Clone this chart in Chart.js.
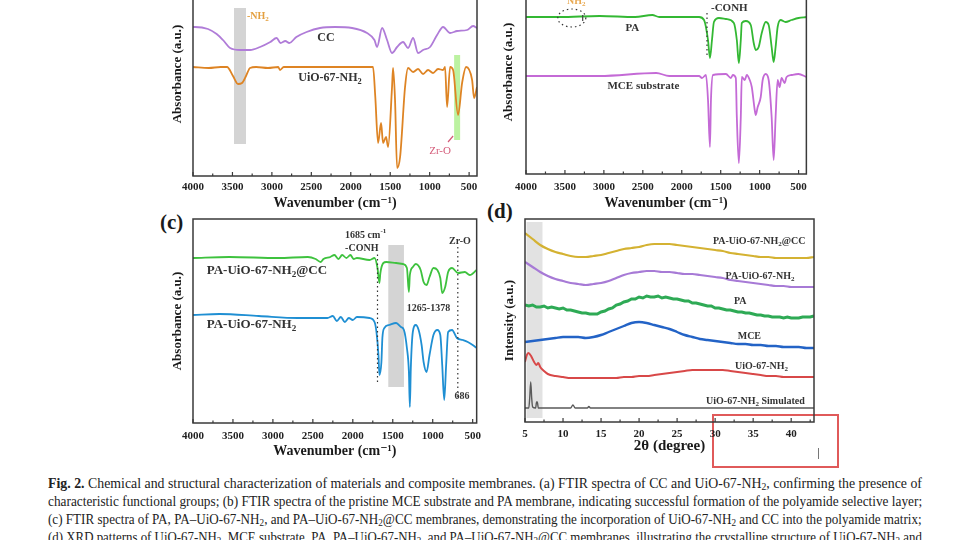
<!DOCTYPE html>
<html>
<head>
<meta charset="utf-8">
<script src="https://cdn.jsdelivr.net/npm/chart.js@4.4.1/dist/chart.umd.min.js"></script>
<style>
html,body{margin:0;padding:0;background:#fff;}
body{width:960px;height:540px;position:relative;overflow:hidden;font-family:"Liberation Serif",serif;}
canvas{position:absolute;}
.tag{position:absolute;font:bold 21px "Liberation Serif",serif;color:#1a1a1a;}
#stamp{position:absolute;left:712px;top:414px;width:123px;height:50px;border:2px solid #e05a5a;background:rgba(255,255,255,0.5);}
#stamp i{position:absolute;left:104px;top:32px;width:1px;height:11px;background:#777;}
#caption{position:absolute;left:48px;top:475px;width:874px;font-size:14px;line-height:18px;color:#222;}
#caption span{display:inline-block;white-space:nowrap;transform-origin:0 0;}
#caption sub{font-size:70%;line-height:0;vertical-align:-0.25em;}
</style>
</head>
<body>
<div class="tag" style="left:160px;top:210px">(c)</div>
<div class="tag" style="left:487px;top:199px">(d)</div>
<div id="stamp"><i></i></div>
<div id="caption">
<div><span><b>Fig. 2.</b> Chemical and structural characterization of materials and composite membranes. (a) FTIR spectra of CC and UiO-67-NH<sub>2</sub>, confirming the presence of</span></div>
<div><span>characteristic functional groups; (b) FTIR spectra of the pristine MCE substrate and PA membrane, indicating successful formation of the polyamide selective layer;</span></div>
<div><span>(c) FTIR spectra of PA, PA–UiO-67-NH<sub>2</sub>, and PA–UiO-67-NH<sub>2</sub>@CC membranes, demonstrating the incorporation of UiO-67-NH<sub>2</sub> and CC into the polyamide matrix;</span></div>
<div><span>(d) XRD patterns of UiO-67-NH<sub>2</sub>, MCE substrate, PA, PA–UiO-67-NH<sub>2</sub>, and PA–UiO-67-NH<sub>2</sub>@CC membranes, illustrating the crystalline structure of UiO-67-NH<sub>2</sub> and</span></div>
</div>
<script>
const FONT = '"Liberation Serif","DejaVu Serif",serif'

//tick labels
const ftirTicks = [4000, 3500, 3000, 2500, 2000, 1500, 1000, 500]
const xrdTicks = [5, 10, 15, 20, 25, 30, 35, 40]

//(a) FTIR of CC and UiO-67-NH2
const ccWave = [4000, 3975, 3810, 3700, 3620, 3530, 3400, 3275, 3150, 3020, 2940, 2890, 2830, 2780, 2690, 2560, 2390, 2200, 1984, 1794, 1700, 1667, 1603, 1540, 1477, 1413, 1337, 1274, 1210, 1147, 1084, 995, 906, 830, 741, 652, 526, 450, 400]
const ccAbs = [149, 149, 147, 142, 136, 128, 126, 126, 129, 134, 138, 133, 135, 133, 139, 144, 148, 149, 148, 143, 136, 129, 148, 136, 123, 129, 134, 128, 138, 123, 126, 129, 141, 149, 143, 145, 146, 150, 148]
const uioWave = [4000, 3800, 3650, 3569, 3493, 3429, 3379, 3328, 3277, 3200, 3050, 2920, 2897, 2850, 2600, 2300, 2000, 1800, 1718, 1690, 1654, 1616, 1591, 1553, 1527, 1477, 1464, 1439, 1413, 1375, 1312, 1274, 1210, 1147, 1084, 1020, 957, 894, 830, 805, 779, 741, 703, 640, 589, 538, 462, 437, 400]
const uioAbs = [109, 108, 109, 109, 100, 92, 93, 100, 108, 109, 108, 109, 106, 109, 109, 109, 109, 109, 109, 80, 33, 53, 33, 39, 29, 89, 108, 76, 8, 19, 89, 108, 104, 107, 102, 106, 103, 107, 106, 109, 69, 109, 106, 61, 93, 109, 96, 78, 89]

//(b) FTIR of PA and MCE substrate
const paWave = [4000, 3566, 3055, 2600, 2378, 2289, 1778, 1714, 1663, 1638, 1612, 1587, 1523, 1433, 1331, 1293, 1267, 1242, 1229, 1178, 1114, 1076, 1050, 1012, 973, 922, 884, 846, 820, 795, 769, 731, 667, 590, 501, 400]
const paAbs = [157, 157, 158, 157, 159, 157, 157, 154, 134, 116, 134, 152, 156, 155, 151, 134, 111, 134, 151, 153, 149, 131, 124, 127, 141, 152, 149, 127, 112, 127, 147, 154, 152, 154, 156, 157]
const mceWave = [4000, 3055, 2327, 2161, 1778, 1740, 1689, 1663, 1638, 1625, 1599, 1433, 1369, 1344, 1306, 1293, 1267, 1242, 1229, 1191, 1165, 1127, 1101, 1063, 1050, 1025, 986, 961, 922, 884, 846, 820, 795, 769, 744, 718, 680, 654, 590, 501, 400]
const mceAbs = [98, 98, 101, 98, 98, 96, 99, 74, 27, 74, 99, 100, 96, 99, 96, 57, 11, 57, 97, 94, 99, 94, 87, 64, 59, 67, 77, 94, 100, 94, 57, 14, 57, 94, 87, 96, 91, 97, 99, 100, 97]

//(c) FTIR of the composite membranes
const pacWave = [4000, 3546, 2932, 2563, 2465, 2404, 2367, 2281, 2230, 2180, 2133, 2080, 2030, 1990, 1949, 1790, 1728, 1691, 1667, 1655, 1618, 1581, 1458, 1372, 1323, 1298, 1286, 1249, 1212, 1151, 1114, 1077, 1040, 991, 942, 905, 881, 844, 807, 758, 684, 598, 537, 450]
const pacAbs = [165, 166, 165, 166, 164, 161, 164, 166, 168, 164, 168, 165, 168, 164, 165, 163, 165, 155, 140, 150, 160, 161, 160, 159, 155, 131, 148, 156, 159, 153, 141, 138, 146, 155, 153, 145, 130, 136, 151, 155, 150, 151, 148, 153]
const pauWave = [4000, 3668, 3177, 2686, 2318, 2250, 2200, 2150, 2100, 2050, 2000, 1949, 1790, 1728, 1704, 1679, 1667, 1642, 1630, 1605, 1544, 1458, 1397, 1360, 1323, 1298, 1286, 1274, 1249, 1212, 1176, 1139, 1114, 1077, 1040, 991, 942, 905, 881, 856, 832, 807, 758, 697, 623, 561, 500, 450]
const pauAbs = [108, 109, 107, 105, 105, 107, 102, 106, 101, 105, 103, 106, 105, 101, 91, 68, 48, 61, 85, 95, 98, 100, 96, 93, 75, 51, 16, 55, 91, 98, 93, 78, 61, 51, 68, 88, 93, 88, 58, 23, 58, 91, 93, 85, 83, 81, 78, 75]

//(d) XRD patterns
const xrdDeg = [5, 6, 7, 8, 9, 10, 11, 12, 13, 14, 15, 16, 17, 18, 19, 20, 21, 22, 23, 24, 25, 26, 27, 28, 29, 30, 31, 32, 33, 34, 35, 36, 37, 38, 39, 40, 41, 42, 43]
const xrdPAUiOCC = [189, 183, 177, 173, 170, 168, 166, 165, 165, 166, 167, 169, 171, 173, 174, 175, 177, 178, 178, 178, 177, 176, 175, 174, 173, 172, 171, 169, 168, 167, 166, 165, 165, 164, 164, 164, 164, 164, 165]
const xrdPAUiO = [160, 155, 150, 146, 143, 141, 139, 138, 137, 138, 139, 141, 144, 147, 149, 150, 151, 151, 150, 150, 149, 148, 148, 147, 146, 145, 144, 142, 141, 140, 139, 138, 137, 136, 136, 135, 135, 135, 135]
const xrdMCE = [80, 81, 82, 83, 84, 85, 85, 85, 84, 85, 87, 90, 93, 96, 99, 100, 99, 97, 95, 93, 90, 87, 85, 83, 82, 81, 80, 79, 78, 78, 77, 77, 76, 76, 75, 75, 75, 74, 74]
const paDeg = [5, 5.5, 6, 6.5, 7, 7.5, 8, 8.5, 9, 9.5, 10, 10.5, 11, 11.5, 12, 12.5, 13, 13.5, 14, 14.5, 15, 15.5, 16, 16.5, 17, 17.5, 18, 18.5, 19, 19.5, 20, 20.5, 21, 21.5, 22, 22.5, 23, 23.5, 24, 24.5, 25, 25.5, 26, 26.5, 27, 27.5, 28, 28.5, 29, 29.5, 30, 30.5, 31, 31.5, 32, 32.5, 33, 33.5, 34, 34.5, 35, 35.5, 36, 36.5, 37, 37.5, 38, 38.5, 39, 39.5, 40, 40.5, 41, 41.5, 42, 42.5, 43]
const xrdPA = [117, 116, 117, 115, 115, 116, 114, 115, 114, 113, 114, 112, 112, 111, 110, 109, 109, 108, 108, 108, 110, 111, 113, 114, 117, 118, 120, 121, 123, 123, 125, 124, 126, 125, 125, 126, 124, 125, 124, 123, 123, 122, 121, 121, 119, 119, 118, 117, 116, 116, 114, 114, 113, 112, 112, 111, 110, 110, 109, 109, 108, 107, 107, 106, 106, 105, 105, 105, 104, 105, 104, 104, 104, 105, 105, 105, 106]
const uioDeg = [5, 5.2, 5.45, 5.8, 6.2, 6.5, 6.75, 7, 7.5, 8, 9, 10, 11, 12, 13, 14, 15, 16, 17, 18, 19, 20, 21, 22, 23, 24, 25, 26, 27, 28, 29, 30, 31, 32, 33, 34, 35, 36, 37, 38, 39, 40, 41, 42, 43]
const xrdUiO = [60, 66, 69, 66, 60, 57, 59, 55, 51, 48, 46, 45, 44, 44, 44, 44, 44, 44, 44, 45, 45, 46, 46, 47, 48, 49, 50, 51, 52, 52, 52, 52, 52, 51, 50, 49, 48, 47, 46, 46, 45, 45, 45, 45, 45]
const simDeg = [5, 5.5, 5.62, 5.75, 5.88, 6.0, 6.4, 6.52, 6.62, 6.75, 7, 9, 11.0, 11.3, 11.6, 13.2, 13.4, 13.6, 43]
const xrdSim = [14, 14, 24, 40, 24, 15, 14, 20, 20, 14, 14, 14, 14, 17, 14, 14, 15.5, 14, 14]

const pts = (xs, ys) => xs.map((x, i) => ({x, y: ys[i]}))

//panel layouts (page pixels for plot boxes) and their decorations in data units
const panels = [
    {
        id: 'a', box: {l: 193, r: 477, t: -28, b: 176}, xMin: 400, xMax: 4000, reverse: true,
        ticks: ftirTicks, minorStart: 500, minorStep: 250, yMax: 204,
        yTitle: 'Absorbance (a.u.)', yTitleX: 178, xTitle: 'Wavenumber (cm⁻¹)', tickY: 187, xTitleY: 203,
        series: [{data: pts(ccWave, ccAbs), c: '#b07cd8'}, {data: pts(uioWave, uioAbs), c: '#de8424'}],
        bands: [{x0: 3480, x1: 3328, y0: 32, y1: 168, c: '#d4d4d4'}, {x0: 690, x1: 614, y0: 36, y1: 121, c: 'rgba(165,238,130,0.75)'}],
        marks: [{x0: 767, y0: 34, x1: 703, y1: 40, c: '#d45a78'}],
        labels: [
            {x: 3315, y: 160, t: '-NH_2', c: '#e4a040', s: 10, a: 'left'},
            {x: 2314, y: 138, t: 'CC', s: 12},
            {x: 2263, y: 98, t: 'UiO-67-NH_2', s: 12},
            {x: 868, y: 25, t: 'Zr-O', c: '#d45a78', s: 11, w: 'normal'}
        ]
    },
    {
        id: 'b', box: {l: 526, r: 808, t: -30, b: 174}, xMin: 400, xMax: 4000, reverse: true,
        ticks: ftirTicks, minorStart: 500, minorStep: 250, yMax: 204,
        yTitle: 'Absorbance (a.u.)', yTitleX: 509, xTitle: 'Wavenumber (cm⁻¹)', tickY: 187, xTitleY: 203,
        series: [{data: pts(paWave, paAbs), c: '#33b833'}, {data: pts(mceWave, mceAbs), c: '#c46ad6'}],
        guides: [{x: 1676, y0: 119, y1: 164}],
        rings: [{x: 3412, y: 156, rx: 14, ry: 9}],
        marks: [{x0: 3272, y0: 153, x1: 3272, y1: 159, c: '#444'}],
        labels: [
            {x: 2634, y: 146, t: 'PA', s: 11},
            {x: 2493, y: 88, t: 'MCE substrate', s: 11},
            {x: 1625, y: 166, t: '-CONH', s: 11, a: 'left'},
            {x: 3355, y: 173, t: 'NH_2', c: '#e8a850', s: 10}
        ]
    },
    {
        id: 'c', box: {l: 193, r: 482, t: 219, b: 423}, xMin: 450, xMax: 4000, reverse: true,
        ticks: ftirTicks, minorStart: 500, minorStep: 250, yMax: 204,
        yTitle: 'Absorbance (a.u.)', yTitleX: 178, xTitle: 'Wavenumber (cm⁻¹)', tickY: 436, xTitleY: 451,
        series: [{data: pts(pacWave, pacAbs), c: '#3ec23e'}, {data: pts(pauWave, pauAbs), c: '#1f8fd3'}],
        bands: [{x0: 1556, x1: 1360, y0: 36, y1: 178, c: '#d4d4d4'}],
        guides: [{x: 1691, y0: 41, y1: 170}, {x: 686, y0: 26, y1: 176}],
        labels: [
            {x: 1839, y: 188, t: '1685 cm^-1', s: 10},
            {x: 1888, y: 175, t: '-CONH', s: 10},
            {x: 660, y: 182, t: 'Zr-O', s: 10},
            {x: 1053, y: 115, t: '1265-1378', s: 10},
            {x: 635, y: 27, t: '686', s: 10},
            {x: 3828, y: 152, t: 'PA-UiO-67-NH_2@CC', s: 13, a: 'left'},
            {x: 3828, y: 98, t: 'PA-UiO-67-NH_2', s: 13, a: 'left'}
        ]
    },
    {
        id: 'd', box: {l: 525, r: 814, t: 219, b: 422}, xMin: 5, xMax: 43, reverse: false,
        ticks: xrdTicks, minorStart: 5, minorStep: 2.5, yMax: 203,
        yTitle: 'Intensity (a.u.)', yTitleX: 510, xTitle: '2θ (degree)', xTitleSize: 15, tickY: 434, xTitleY: 447,
        series: [
            {data: pts(xrdDeg, xrdPAUiOCC), c: '#d4b232', bw: 2.2},
            {data: pts(xrdDeg, xrdPAUiO), c: '#a77ad6', bw: 2.2},
            {data: pts(paDeg, xrdPA), c: '#2eaa55', bw: 3, straight: true},
            {data: pts(xrdDeg, xrdMCE), c: '#2363c6', bw: 2.4},
            {data: pts(uioDeg, xrdUiO), c: '#d84848', bw: 2},
            {data: pts(simDeg, xrdSim), c: '#5a5a5a', bw: 1.4}
        ],
        bands: [{x0: 5.2, x1: 7.3, y0: 4, y1: 200, c: '#e2e2e2'}],
        labels: [
            {x: 35.8, y: 181, t: 'PA-UiO-67-NH_2@CC', s: 10},
            {x: 35.9, y: 146, t: 'PA-UiO-67-NH_2', s: 10},
            {x: 33.3, y: 121, t: 'PA', s: 10},
            {x: 34.5, y: 86, t: 'MCE', s: 10},
            {x: 36.1, y: 56, t: 'UiO-67-NH_2', s: 10},
            {x: 35.3, y: 21, t: 'UiO-67-NH_2 Simulated', s: 10}
        ]
    }
]

//text with _x subscripts and ^xx superscripts
function parseRich(t) {
    const segs = []
    let buf = '', i = 0
    while (i < t.length) {
        const ch = t[i]
        if (ch === '_' || ch === '^') {
            if (buf) { segs.push({t: buf, m: 0}); buf = '' }
            if (ch === '_') { segs.push({t: t[i + 1], m: 1}); i += 2; continue }
            let j = i + 1, s = ''
            while (j < t.length && t[j] !== ' ') { s += t[j]; j++ }
            segs.push({t: s, m: 2}); i = j; continue
        }
        buf += ch; i++
    }
    if (buf) segs.push({t: buf, m: 0})
    return segs
}

function drawRich(ctx, text, x, y, size, weight, color, align) {
    const segs = parseRich(text)
    const fnt = s => weight + ' ' + s + 'px ' + FONT
    let w = 0
    segs.forEach(s => { ctx.font = fnt(s.m ? size * 0.7 : size); s.w = ctx.measureText(s.t).width; w += s.w })
    let cx = align === 'left' ? x : align === 'right' ? x - w : x - w / 2
    ctx.fillStyle = color
    ctx.textBaseline = 'middle'
    ctx.textAlign = 'left'
    segs.forEach(s => {
        ctx.font = fnt(s.m ? size * 0.7 : size)
        const dy = s.m === 1 ? size * 0.3 : s.m === 2 ? -size * 0.38 : 0
        ctx.fillText(s.t, cx, y + dy)
        cx += s.w
    })
}

function decorPlugin(p) {
    return {
        id: 'decor' + p.id,
        beforeDatasetsDraw(chart) {
            const {ctx, scales: {x, y}} = chart
            ctx.save();
            (p.bands || []).forEach(b => {
                const x0 = x.getPixelForValue(b.x0), x1 = x.getPixelForValue(b.x1)
                const y0 = y.getPixelForValue(b.y0), y1 = y.getPixelForValue(b.y1)
                ctx.fillStyle = b.c
                ctx.fillRect(Math.min(x0, x1), Math.min(y0, y1), Math.abs(x1 - x0), Math.abs(y1 - y0))
            })
            ctx.restore()
        },
        afterDatasetsDraw(chart) {
            const {ctx, chartArea: a, scales: {x, y}} = chart
            ctx.save()
            ctx.setLineDash([1.5, 3])
            ctx.lineWidth = 1.2
            ctx.strokeStyle = '#333';
            (p.guides || []).forEach(g => {
                const px = x.getPixelForValue(g.x)
                ctx.beginPath()
                ctx.moveTo(px, y.getPixelForValue(g.y0))
                ctx.lineTo(px, y.getPixelForValue(g.y1))
                ctx.stroke()
            });
            (p.rings || []).forEach(r => {
                ctx.beginPath()
                ctx.ellipse(x.getPixelForValue(r.x), y.getPixelForValue(r.y), r.rx, r.ry, 0, 0, Math.PI * 2)
                ctx.stroke()
            })
            ctx.setLineDash([]);
            (p.marks || []).forEach(m => {
                ctx.strokeStyle = m.c
                ctx.lineWidth = 1.2
                ctx.beginPath()
                ctx.moveTo(x.getPixelForValue(m.x0), y.getPixelForValue(m.y0))
                ctx.lineTo(x.getPixelForValue(m.x1), y.getPixelForValue(m.y1))
                ctx.stroke()
            })
            //frame and inward ticks
            ctx.strokeStyle = '#3a3a3a'
            ctx.lineWidth = 1.5
            ctx.strokeRect(a.left, a.top, a.right - a.left, a.bottom - a.top)
            ctx.lineWidth = 1.2
            const hi = Math.max(x.min, x.max)
            for (let v = p.minorStart; v <= hi + 1e-6; v += p.minorStep) {
                const px = x.getPixelForValue(v)
                const major = p.ticks.includes(v)
                ctx.beginPath()
                ctx.moveTo(px, a.bottom)
                ctx.lineTo(px, a.bottom - (major ? 4 : 2.5))
                ctx.stroke()
            }
            (p.labels || []).forEach(l => drawRich(ctx, l.t, x.getPixelForValue(l.x), y.getPixelForValue(l.y),
                l.s || 11, l.w || 'bold', l.c || '#333', l.a || 'center'))
            ctx.restore()
        }
    }
}

const YW = 44, XH = 44, PT = 6, PR = 6

panels.forEach(p => {
    const left = p.box.l - YW, top = p.box.t - PT
    const w = p.box.r + PR - left, h = p.box.b + XH - top
    const cv = document.createElement('canvas')
    cv.width = w
    cv.height = h
    cv.style.left = left + 'px'
    cv.style.top = top + 'px'
    cv.style.width = w + 'px'
    cv.style.height = h + 'px'
    document.body.appendChild(cv)
    new Chart(cv, {
        type: 'line',
        data: {
            datasets: p.series.map(s => ({
                data: s.data, borderColor: s.c, borderWidth: s.bw || 1.8, pointRadius: 0,
                fill: false, cubicInterpolationMode: s.straight ? 'default' : 'monotone', tension: 0
            }))
        },
        options: {
            responsive: false,
            animation: false,
            devicePixelRatio: 1,
            layout: {padding: {left: 0, top: PT, right: PR, bottom: 0}},
            plugins: {legend: {display: false}, tooltip: {enabled: false}},
            scales: {
                x: {
                    type: 'linear', min: p.xMin, max: p.xMax, reverse: p.reverse,
                    afterBuildTicks: s => { s.ticks = p.ticks.map(v => ({value: v})) },
                    afterFit: s => { s.height = XH },
                    grid: {display: false, drawTicks: false},
                    border: {display: false},
                    ticks: {
                        autoSkip: false, maxRotation: 0, padding: p.tickY - p.box.b - 6, color: '#222',
                        font: {family: FONT, size: 11, weight: 'bold'}, callback: v => String(v)
                    },
                    title: {
                        display: true, text: p.xTitle, color: '#1a1a1a',
                        font: {family: FONT, size: p.xTitleSize || 14, weight: 'bold'},
                        padding: {top: 0, bottom: p.box.b + XH - p.xTitleY - 8.4}
                    }
                },
                y: {
                    min: 0, max: p.yMax,
                    afterFit: s => { s.width = YW },
                    grid: {display: false},
                    border: {display: false},
                    ticks: {display: false},
                    title: {
                        display: true, text: p.yTitle, color: '#1a1a1a',
                        font: {family: FONT, size: 13, weight: 'bold'},
                        padding: {top: p.yTitleX - left - 7.8, bottom: 0}
                    }
                }
            }
        },
        plugins: [decorPlugin(p)]
    })
})

//stretch each caption line to the full column width
document.querySelectorAll('#caption span').forEach(sp => {
    sp.style.transform = 'scaleX(' + (874 / sp.offsetWidth) + ')'
})
</script>
</body>
</html>
